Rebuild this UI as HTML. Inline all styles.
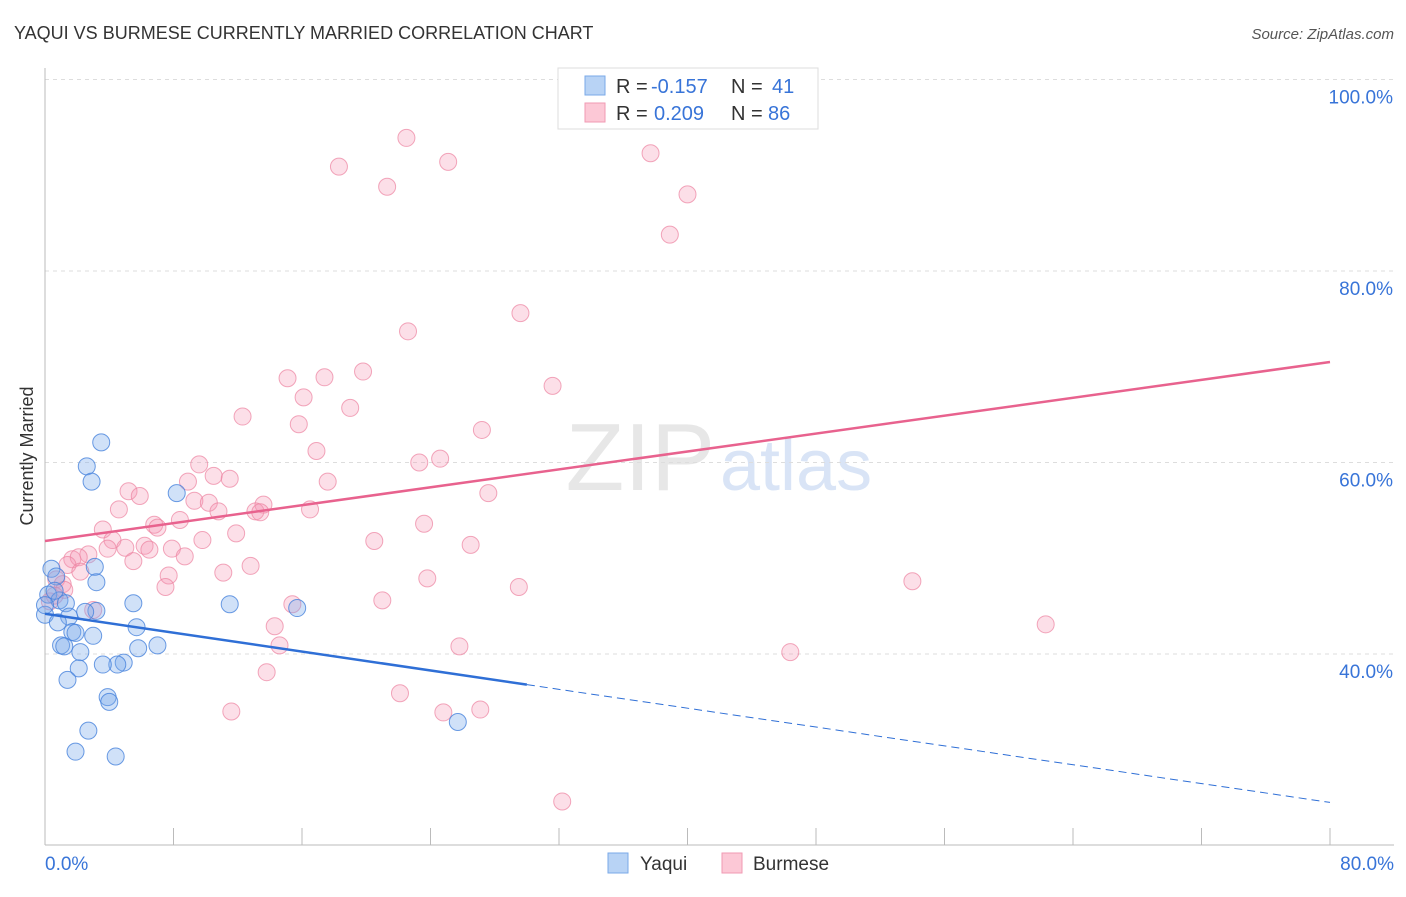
<!DOCTYPE html>
<html><head><meta charset="utf-8">
<style>
body{margin:0;background:#fff;font-family:"Liberation Sans",sans-serif;}
svg text{font-family:"Liberation Sans",sans-serif;}
</style></head>
<body>
<svg id="chart" width="1406" height="892" viewBox="0 0 1406 892" xmlns="http://www.w3.org/2000/svg">
<text x="14" y="39" font-size="18" fill="#333">YAQUI VS BURMESE CURRENTLY MARRIED CORRELATION CHART</text>
<text x="1394" y="39" font-size="15" fill="#555" text-anchor="end" font-style="italic">Source: ZipAtlas.com</text>
<text x="715" y="490" font-size="96" fill="#ddd" text-anchor="end" font-family="Liberation Serif" opacity="0.7">ZIP</text>
<text x="720" y="490" font-size="72" fill="#c9daf3" opacity="0.7">atlas</text>
<g id="grid"></g>
<g id="axes"></g>
<g id="pts"></g>
<g id="lines"></g>
<text transform="translate(33,456) rotate(-90)" font-size="18" fill="#333" text-anchor="middle">Currently Married</text>
<g>
<rect x="558" y="68" width="260" height="61" fill="#fff" stroke="#ddd"/>
<rect x="585" y="76" width="20" height="19" fill="#b8d3f5" stroke="#7aaae8"/>
<text x="616" y="93" font-size="20" fill="#333">R =</text>
<text x="651" y="93" font-size="20" fill="#3874d8">-0.157</text>
<text x="731" y="93" font-size="20" fill="#333">N =</text>
<text x="772" y="93" font-size="20" fill="#3874d8">41</text>
<rect x="585" y="103" width="20" height="19" fill="#fcc8d6" stroke="#f09ab3"/>
<text x="616" y="120" font-size="20" fill="#333">R =</text>
<text x="654" y="120" font-size="20" fill="#3874d8">0.209</text>
<text x="731" y="120" font-size="20" fill="#333">N =</text>
<text x="768" y="120" font-size="20" fill="#3874d8">86</text>
</g>
<g>
<rect x="608" y="853" width="20" height="20" fill="#b8d3f5" stroke="#7aaae8"/>
<text x="640" y="870" font-size="19" fill="#333">Yaqui</text></g>
<g>
<rect x="722" y="853" width="20" height="20" fill="#fcc8d6" stroke="#f09ab3"/>
<text x="753" y="870" font-size="19" fill="#333">Burmese</text></g>
</svg>
<script>
const yTicks=[40,60,80,100];
const yTickLabels=["40.0%","60.0%","80.0%","100.0%"];
const xLabels=["0.0%","80.0%"];
const yaquiX=[3.5,2.6,2.9,8.2,0.4,0.7,3.1,3.2,0.2,0.9,1.3,5.5,11.5,15.7,3.2,2.5,0,1.5,0.8,5.7,1.7,1.9,3.0,1.0,1.2,7.0,5.8,2.2,4.9,4.5,3.6,2.1,1.4,3.9,4.0,2.7,1.9,4.4,25.7,0,0.6];
const yaquiY=[62.1,59.6,58.0,56.8,48.9,48.1,49.1,47.5,46.2,45.6,45.3,45.3,45.2,44.8,44.5,44.4,44.1,43.9,43.3,42.8,42.3,42.2,41.9,40.9,40.8,40.9,40.6,40.2,39.1,38.9,38.9,38.5,37.3,35.5,35.0,32.0,29.8,29.3,32.9,45.1,46.6];
const burX=[22.5,18.3,25.1,37.7,21.3,40.0,38.9,29.6,22.6,15.1,17.4,19.8,31.6,16.1,19.0,12.3,15.8,27.2,16.9,24.6,23.3,9.6,10.5,11.5,8.9,17.6,27.6,5.2,5.9,9.3,10.2,13.6,4.6,10.8,13.1,13.4,16.5,23.6,6.8,8.4,7.0,3.6,11.9,9.8,20.5,4.2,26.5,6.2,6.5,5.0,3.9,7.9,8.7,2.7,1.7,2.1,5.5,12.8,1.4,11.1,7.7,2.2,0.7,7.5,1.1,23.8,29.5,54.0,1.2,21.0,15.4,3.0,14.3,62.3,14.6,25.8,46.4,13.8,22.1,27.1,11.6,24.8,32.2,0.3,0.6];
const burY=[93.9,90.9,91.4,92.3,88.8,88.0,83.8,75.6,73.7,68.8,68.9,69.5,68.0,66.8,65.7,64.8,64.0,63.4,61.2,60.4,60.0,59.8,58.6,58.3,58.0,58.0,56.8,57.0,56.5,56.0,55.8,55.6,55.1,54.9,54.9,54.8,55.1,53.6,53.5,54.0,53.2,53.0,52.6,51.9,51.8,51.9,51.4,51.3,50.9,51.1,51.0,51.0,50.2,50.4,49.9,50.1,49.7,49.2,49.3,48.5,48.2,48.6,47.8,47.0,47.3,47.9,47.0,47.6,46.7,45.6,45.2,44.6,42.9,43.1,40.9,40.8,40.2,38.1,35.9,34.2,34.0,33.9,24.6,45.5,46.1];
const blueLine=[[0,44.2],[30,36.8],[80,24.5]];
const pinkLine=[[0,51.8],[80,70.5]];
const NS="http://www.w3.org/2000/svg";
const X=v=>45+v*(1285/80), Y=v=>654-(v-40)*9.575;
function mk(t,a,p){const e=document.createElementNS(NS,t);for(const k in a)e.setAttribute(k,a[k]);p.appendChild(e);return e;}
const grid=document.getElementById('grid'),axes=document.getElementById('axes'),pts=document.getElementById('pts'),lines=document.getElementById('lines');
yTicks.forEach((v,i)=>{
 const l=mk('line',{x1:45,x2:1394,y1:Y(v),y2:Y(v),stroke:'#ddd','stroke-dasharray':'4,4'},grid);
 
 
 const t=mk('text',{x:1393,y:Y(v)+24,'font-size':19,fill:'#3874d8','text-anchor':'end'},axes);t.textContent=yTickLabels[i];
 
 
});
const ax=mk('line',{x1:45,x2:45,y1:68,y2:845,stroke:'#bbb'},axes);


const bx=mk('line',{x1:45,x2:1394,y1:845,y2:845,stroke:'#bbb'},axes);


for(let i=0;i<=10;i++){const t=mk('line',{x1:X(i*8),x2:X(i*8),y1:828,y2:845,stroke:'#bbb'},axes);
 
 }
[[0,'start',45],[80,'end',1394]].forEach((d,i)=>{const t=mk('text',{x:d[2],y:870,'font-size':19,fill:'#3874d8','text-anchor':d[1]},axes);t.textContent=xLabels[i];
 
 });
burX.forEach((x,i)=>{const c=mk('circle',{cx:X(x),cy:Y(burY[i]),r:8.5,fill:'rgba(244,150,178,0.3)',stroke:'rgba(236,130,160,0.7)','stroke-width':1},pts);
 
 });
yaquiX.forEach((x,i)=>{const c=mk('circle',{cx:X(x),cy:Y(yaquiY[i]),r:8.5,fill:'rgba(120,170,235,0.35)',stroke:'rgba(70,130,220,0.8)','stroke-width':1},pts);
 
 });
let l1=mk('line',{x1:X(blueLine[0][0]),y1:Y(blueLine[0][1]),x2:X(blueLine[1][0]),y2:Y(blueLine[1][1]),stroke:'#2f6fd6','stroke-width':2.5},lines);


let l2=mk('line',{x1:X(blueLine[1][0]),y1:Y(blueLine[1][1]),x2:X(blueLine[2][0]),y2:Y(blueLine[2][1]),stroke:'#2f6fd6','stroke-width':1,'stroke-dasharray':'8,5'},lines);


let l3=mk('line',{x1:X(pinkLine[0][0]),y1:Y(pinkLine[0][1]),x2:X(pinkLine[1][0]),y2:Y(pinkLine[1][1]),stroke:'#e8628e','stroke-width':2.5},lines);


</script>
</body></html>
